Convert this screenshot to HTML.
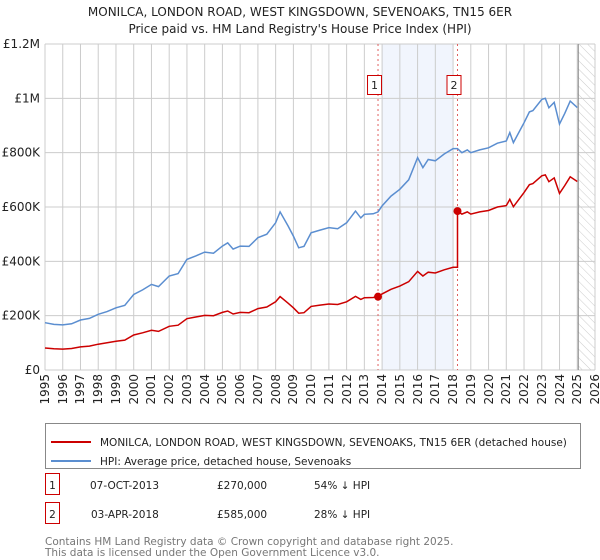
<!DOCTYPE html>
<html><head><meta charset="utf-8"><style>
body{margin:0;background:#fff;font-family:"DejaVu Sans","Liberation Sans",sans-serif;}
#wrap{position:relative;width:600px;height:560px;}
svg{display:block;position:absolute;left:0;top:0}
.xl{position:absolute;font-size:12px;color:#222;line-height:14px;white-space:nowrap;transform:rotate(-90deg);transform-origin:100% 50%;text-align:right;width:40px;}
</style></head><body>
<div id="wrap">
<svg id="chart" width="600" height="560" xmlns="http://www.w3.org/2000/svg" font-family="DejaVu Sans, Liberation Sans, sans-serif">
<defs>
<pattern id="hatch" width="6" height="6" patternUnits="userSpaceOnUse" patternTransform="rotate(-45)">
<line x1="0" y1="0" x2="0" y2="6" stroke="#ccc" stroke-width="1"/>
</pattern>
</defs>
<text x="300" y="16" text-anchor="middle" font-size="12" fill="#222">MONILCA, LONDON ROAD, WEST KINGSDOWN, SEVENOAKS, TN15 6ER</text>
<text x="300" y="33" text-anchor="middle" font-size="12" fill="#222">Price paid vs. HM Land Registry's House Price Index (HPI)</text>
<g id="plot"></g>
<g>
<rect x="45.5" y="423.5" width="535" height="45" fill="#fff" stroke="#888"/>
<line x1="51" y1="442" x2="91" y2="442" stroke="#cc0000" stroke-width="2"/>
<text x="100" y="446" font-size="10.5" fill="#222">MONILCA, LONDON ROAD, WEST KINGSDOWN, SEVENOAKS, TN15 6ER (detached house)</text>
<line x1="51" y1="461" x2="91" y2="461" stroke="#5b8ed0" stroke-width="2"/>
<text x="100" y="465" font-size="10.5" fill="#222">HPI: Average price, detached house, Sevenoaks</text>
</g>
<g>
<rect x="45.5" y="473.5" width="14" height="21" fill="#fff" stroke="#cc0000"/>
<text x="52.5" y="489" text-anchor="middle" font-size="10.5" fill="#222">1</text>
<text x="90" y="489" font-size="10.5" fill="#222">07-OCT-2013</text>
<text x="217" y="489" font-size="10.5" fill="#222">£270,000</text>
<text x="314" y="489" font-size="10.5" fill="#222">54% ↓ HPI</text>
<rect x="45.5" y="502.5" width="14" height="21" fill="#fff" stroke="#cc0000"/>
<text x="52.5" y="518" text-anchor="middle" font-size="10.5" fill="#222">2</text>
<text x="91" y="518" font-size="10.5" fill="#222">03-APR-2018</text>
<text x="217" y="518" font-size="10.5" fill="#222">£585,000</text>
<text x="314" y="518" font-size="10.5" fill="#222">28% ↓ HPI</text>
</g>
<text x="45" y="545" font-size="10.5" fill="#777">Contains HM Land Registry data © Crown copyright and database right 2025.</text>
<text x="45" y="556" font-size="10.5" fill="#777">This data is licensed under the Open Government Licence v3.0.</text>
</svg>
</div>
<script>
const yTicks=[0,200000,400000,600000,800000,1000000,1200000];
const yTickLabels=["£0","£200K","£400K","£600K","£800K","£1M","£1.2M"];
const xTicks=[1995,1996,1997,1998,1999,2000,2001,2002,2003,2004,2005,2006,2007,2008,2009,2010,2011,2012,2013,2014,2015,2016,2017,2018,2019,2020,2021,2022,2023,2024,2025,2026];
const hpiYears=[1995,1995.5,1996,1996.5,1997,1997.5,1998,1998.5,1999,1999.5,2000,2000.5,2001,2001.4,2002,2002.5,2003,2003.5,2004,2004.5,2005,2005.3,2005.6,2006,2006.5,2007,2007.5,2008,2008.25,2008.7,2009,2009.3,2009.6,2010,2010.5,2011,2011.5,2012,2012.5,2012.8,2013,2013.5,2013.77,2014,2014.5,2015,2015.5,2016,2016.3,2016.6,2017,2017.5,2018,2018.25,2018.5,2018.8,2019,2019.5,2020,2020.5,2021,2021.2,2021.4,2022,2022.3,2022.5,2023,2023.2,2023.4,2023.7,2024,2024.3,2024.6,2025];
const hpiValues=[174,168,166,170,184,190,205,215,229,238,278,295,315,307,346,355,407,420,434,430,456,468,445,456,455,487,500,542,582,530,493,450,455,505,515,524,520,542,585,560,573,575,582,604,640,665,700,782,745,775,770,795,815,815,800,810,800,810,818,835,843,874,837,910,950,955,996,1000,965,985,905,945,990,966];
const priceYears=[1995,1995.5,1996,1996.5,1997,1997.5,1998,1998.5,1999,1999.5,2000,2000.5,2001,2001.4,2002,2002.5,2003,2003.5,2004,2004.5,2005,2005.3,2005.6,2006,2006.5,2007,2007.5,2008,2008.25,2008.7,2009,2009.3,2009.6,2010,2010.5,2011,2011.5,2012,2012.5,2012.8,2013,2013.5,2013.77,2014,2014.5,2015,2015.5,2016,2016.3,2016.6,2017,2017.5,2018,2018.25,2018.25,2018.5,2018.8,2019,2019.5,2020,2020.5,2021,2021.2,2021.4,2022,2022.3,2022.5,2023,2023.2,2023.4,2023.7,2024,2024.3,2024.6,2025];
const priceValues=[81,78,77,79,85,88,95,100,106,110,129,137,146,142,161,165,189,195,201,200,212,217,206,212,211,226,232,251,270,246,229,209,211,234,239,243,241,251,271,260,266,267,270,280,297,309,325,363,346,360,357,369,378,378,585,574,582,574,582,587,600,605,628,601,653,682,686,715,718,693,707,650,679,711,694];
const saleYears=[2013.77,2018.25];
const salePrices=[270,585];
const saleLabels=["1","2"];

const L=45,R=595,T=44,B=370;
const x=y=>L+(y-1995)/(2026-1995)*(R-L);
const yv=v=>B-v/1200000*(B-T);
const ns="http://www.w3.org/2000/svg";
const g=document.getElementById('plot');
const wrap=document.getElementById('wrap');
function mk(tag,attrs,parent){const e=document.createElementNS(ns,tag);for(const k in attrs)e.setAttribute(k,attrs[k]);(parent||g).appendChild(e);return e;}

const sh=mk('rect',{x:x(2014),y:T,width:x(2018)-x(2014),height:B-T,fill:'#eef3fc',opacity:0.8});


const hf=mk('rect',{x:x(2025),y:T,width:x(2026)-x(2025),height:B-T,fill:'url(#hatch)'});



xTicks.forEach(t=>{
  const l=mk('line',{x1:x(t),x2:x(t),y1:T,y2:B,stroke:'#ccc','stroke-width':1});
  
  
  const d=document.createElement('div');
  d.className='xl';
  d.textContent=t;
  // right edge (pivot) at tick x, vertical centre at top of label area
  d.style.left=(x(t)-40)+'px';
  d.style.top=(B+4-7)+'px';
  
  
  wrap.appendChild(d);
});
yTicks.forEach((t,i)=>{
  const l=mk('line',{x1:L,x2:R,y1:yv(t),y2:yv(t),stroke:'#ccc','stroke-width':1});
  
  
  const tx=mk('text',{x:L-5,y:yv(t)+4,'font-size':12,fill:'#222','text-anchor':'end'});
  tx.textContent=yTickLabels[i];
  
  
});
const nl=mk('line',{x1:x(2025)+1,x2:x(2025)+1,y1:T,y2:B,stroke:'#888','stroke-width':1});



saleYears.forEach((s,i)=>{
  const l=mk('line',{x1:x(s),x2:x(s),y1:T,y2:B,stroke:'#e06060','stroke-width':1,'stroke-dasharray':'2,3'});
  
  
  const bx=x(s)-10;
  const r=mk('rect',{x:bx-0.5,y:75.5,width:14,height:19,fill:'#fff',stroke:'#cc0000'});
  
  
  const t=mk('text',{x:bx+6.5,y:89,'font-size':11,fill:'#222','text-anchor':'middle'});
  t.textContent=saleLabels[i];
  
  
});

const hp=mk('path',{d:hpiYears.map((yy,i)=>(i?'L':'M')+x(yy).toFixed(1)+','+yv(hpiValues[i]*1000).toFixed(1)).join(''),fill:'none',stroke:'#5b8ed0','stroke-width':1.5});


const pp=mk('path',{d:priceYears.map((yy,i)=>(i?'L':'M')+x(yy).toFixed(1)+','+yv(priceValues[i]*1000).toFixed(1)).join(''),fill:'none',stroke:'#cc0000','stroke-width':1.5});


saleYears.forEach((s,i)=>{
  const c=mk('circle',{cx:x(s),cy:yv(salePrices[i]*1000),r:4,fill:'#cc0000'});
  
  
});
</script>
</body></html>
